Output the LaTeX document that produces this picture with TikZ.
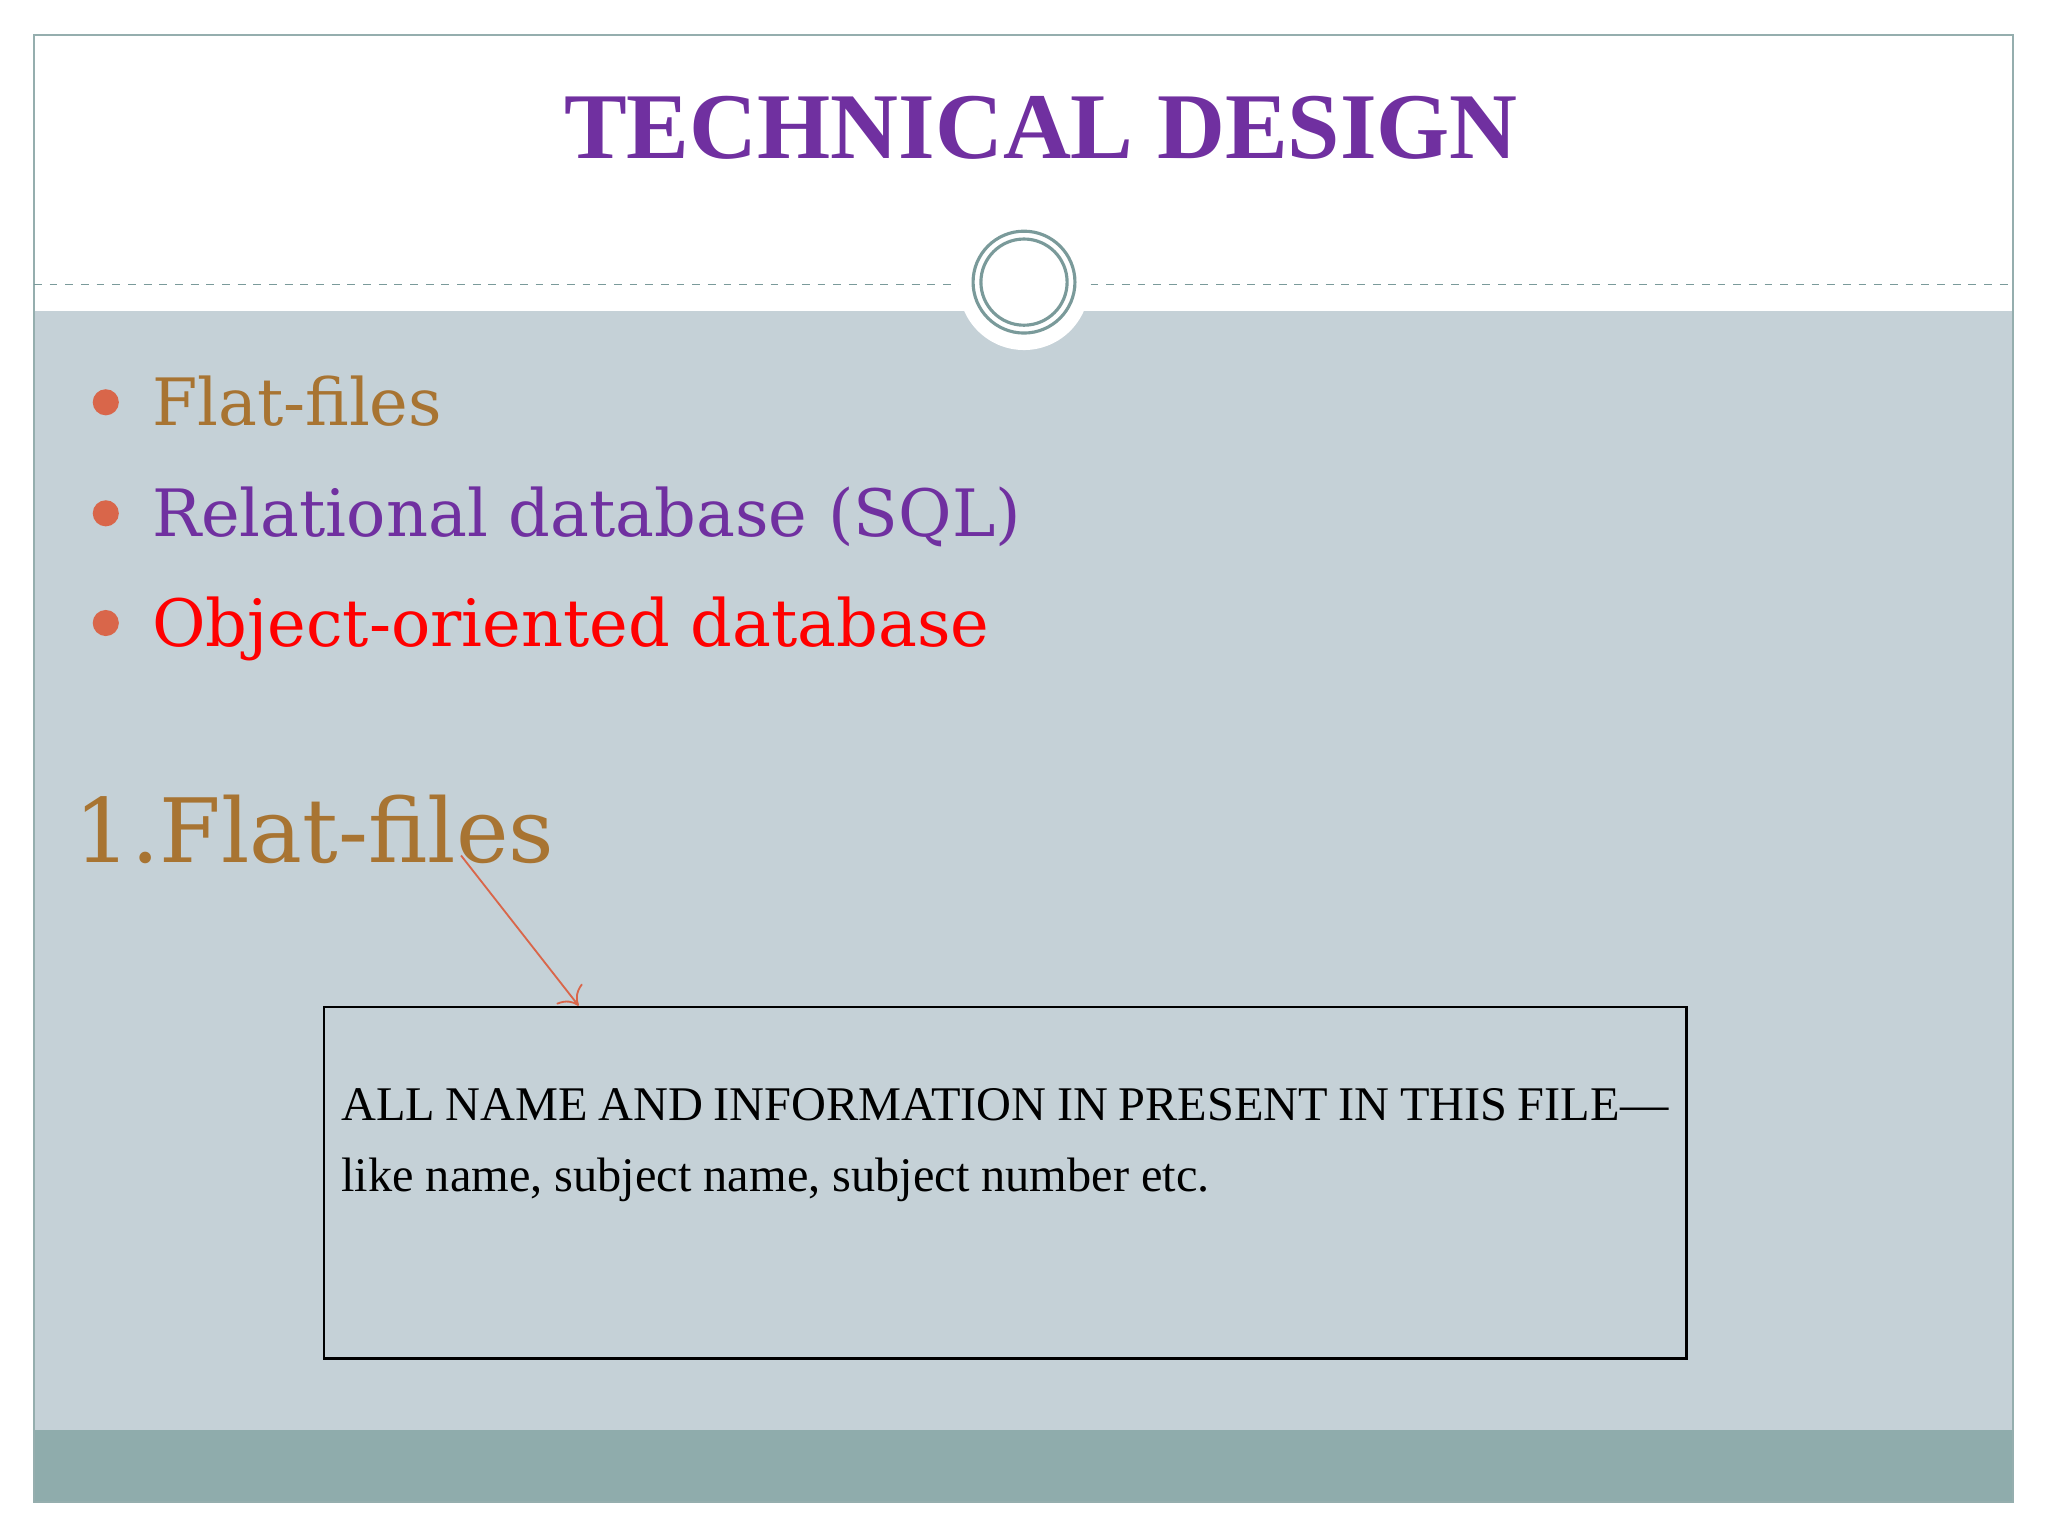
\documentclass[tikz,border=0pt]{standalone}
\usepackage{fontspec}
\usetikzlibrary{arrows.meta}
\setmainfont{Liberation Serif}
\newfontfamily\bodyf{DejaVu Serif}
\definecolor{bg}{HTML}{C5D1D7}
\definecolor{band}{HTML}{8FACAC}
\definecolor{ring}{HTML}{7A9A9A}
\definecolor{purp}{HTML}{7030A0}
\definecolor{brn}{HTML}{A87432}
\definecolor{dotc}{HTML}{D9664A}
\begin{document}
\begin{tikzpicture}[x=0.5pt,y=-0.5pt]
\tikzset{bul/.style={circle,fill=dotc,inner sep=0pt,minimum size=10pt},
btxt/.style={anchor=base west,inner sep=0pt,font=\bodyf\fontsize{25}{30}\selectfont}}
\useasboundingbox (0,0) rectangle (1568,1176);
\fill[white] (0,0) rectangle (1568,1176);
\fill[bg] (26,238) rectangle (1541,1095);
\fill[band] (26,1095) rectangle (1541,1150);
\draw[ring!80,line width=0.6pt] (26,27) rectangle (1541,1150);
\draw[ring,dashed,line width=0.5pt] (26,218) -- (735,218) (835,218) -- (1541,218);
\fill[white] (784,218) circle (50);
\draw[ring,line width=1.2pt] (784,216) circle (39);
\draw[ring,line width=1.2pt] (784,216) circle (33);
\node[font=\bfseries\fontsize{36}{40}\selectfont,text=purp] (title) at (797,98) {TECHNICAL DESIGN};
\node[bul] (b1) at (81,308) {};
\node[bul] (b2) at (81,393) {};
\node[bul] (b3) at (81,477) {};
\node[btxt,text=brn] (t1) at (116,326) {Flat-files};
\node[btxt,text=purp] (t2) at (116,411) {Relational database (SQL)};
\node[btxt,text=red] (t3) at (116,495) {Object-oriented database};
\node[anchor=base west,inner sep=0pt,font=\bodyf\fontsize{34}{40}\selectfont,text=brn] (h) at (57,660) {1.Flat-files};
\node[draw=black,line width=1pt,minimum width=521.5pt,minimum height=134.5pt,inner sep=0pt] (box) at (769.5,905.5) {};
\node[anchor=north west,inner sep=0pt,text width=508pt,align=justify,font=\fontsize{18.5}{27}\selectfont] (bt) at (261,833) {ALL NAME AND INFORMATION IN PRESENT IN THIS FILE---like name, subject name, subject number etc.};
\coordinate (a0) at (353,655);
\draw[dotc,line width=0.7pt,-{To[length=6pt]}] (a0) -- (box.north west -| 443,0);
\end{tikzpicture}
\end{document}
